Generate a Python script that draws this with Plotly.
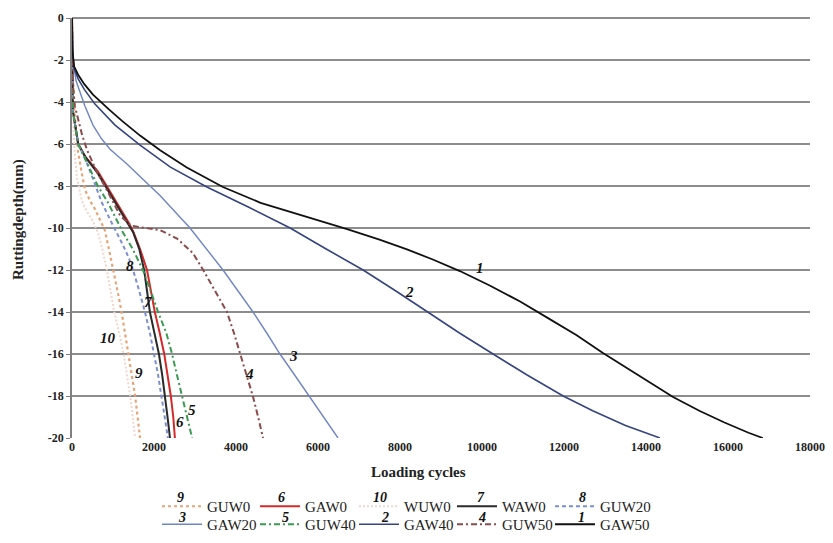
import plotly.graph_objects as go

# Rutting depth (mm) versus loading cycles for each mixture
gaw50_x = [0, 10, 50, 150, 300, 512, 900, 1220, 1660, 2150, 2800, 3680, 4600, 5730, 6710,
           7500, 8170, 8800, 9460, 10200, 10930, 11600, 12300, 12950, 13800, 14660, 15300, 15900, 16500, 16850]
gaw50_y = [0, -1.5, -2.3, -2.7, -3.15, -3.65, -4.35, -4.9, -5.6, -6.3, -7.12, -8.05, -8.8, -9.45, -10.05,
           -10.55, -11.02, -11.5, -12.05, -12.75, -13.5, -14.28, -15.1, -15.95, -17.0, -18.05, -18.7, -19.25, -19.75, -20.0]

gaw40_x = [0, 10, 50, 150, 300, 560, 1050, 1660, 2400, 3290, 4300, 5320, 6200, 7100, 7900,
           8660, 9450, 10270, 11100, 11980, 12700, 13500, 14340]
gaw40_y = [0, -1.5, -2.4, -2.9, -3.4, -4.1, -5.1, -6.05, -7.1, -8.05, -9.0, -10.0, -11.0, -12.0, -13.0,
           -14.0, -15.0, -16.0, -17.0, -18.0, -18.7, -19.4, -20.0]

gaw20_x = [0, 24, 100, 317, 512, 720, 927, 1341, 1659, 2146, 2878, 3683, 4050, 4415, 4750,
           5073, 5430, 5780, 6130, 6488]
gaw20_y = [0, -2.0, -3.0, -4.2, -5.1, -5.75, -6.25, -6.95, -7.55, -8.45, -10.0, -12.0, -13.0, -14.0, -15.0,
           -16.0, -17.0, -18.0, -19.0, -20.0]

guw50_x = [0, 15, 70, 250, 370, 600, 880, 1170, 1450, 1800, 2150, 2560, 2950, 3200, 3500,
           3780, 3950, 4100, 4260, 4410, 4540, 4660]
guw50_y = [0, -3.0, -4.2, -5.6, -6.3, -7.3, -8.3, -9.4, -9.9, -10.0, -10.1, -10.5, -11.2, -12.0, -13.0,
           -14.0, -15.0, -16.0, -17.0, -18.0, -19.0, -20.0]

guw40_x = [0, 10, 20, 150, 300, 490, 630, 880, 1050, 1240, 1480, 1730, 1920, 2100, 2300,
           2440, 2560, 2680, 2800, 2930]
guw40_y = [0, -2.5, -4.4, -6.0, -6.6, -7.4, -8.0, -8.8, -9.5, -10.2, -11.0, -12.0, -13.0, -14.0, -15.0,
           -16.0, -17.0, -18.0, -19.0, -20.0]

gaw0_x = [0, 10, 20, 150, 320, 630, 880, 1120, 1370, 1500, 1660, 1830, 1930, 2020, 2140,
          2250, 2330, 2410, 2470, 2510]
gaw0_y = [0, -2.5, -4.4, -6.0, -6.6, -7.3, -8.1, -8.9, -9.7, -10.2, -11.0, -12.0, -13.0, -14.0, -15.0,
          -16.0, -17.0, -18.0, -19.0, -20.0]

waw0_x = [0, 10, 20, 150, 320, 630, 880, 1120, 1370, 1490, 1640, 1760, 1830, 1900, 2010,
          2120, 2200, 2270, 2330, 2390]
waw0_y = [0, -2.5, -4.4, -6.0, -6.6, -7.4, -8.2, -9.0, -9.8, -10.2, -11.0, -12.0, -13.0, -14.0, -15.0,
          -16.0, -17.0, -18.0, -19.0, -20.0]

guw20_x = [0, 10, 20, 150, 300, 500, 730, 980, 1120, 1240, 1380, 1490, 1640, 1780, 1900,
           2000, 2100, 2180, 2260, 2340]
guw20_y = [0, -2.5, -4.4, -6.0, -6.6, -7.6, -8.8, -9.8, -10.3, -10.8, -11.4, -12.0, -13.0, -14.0, -15.0,
           -16.0, -17.0, -18.0, -19.0, -20.0]

guw0_x = [0, 10, 60, 150, 240, 320, 440, 560, 680, 800, 900, 1010, 1110, 1210, 1290,
          1370, 1460, 1540, 1600, 1660]
guw0_y = [0, -2.0, -4.5, -6.4, -7.4, -8.2, -8.7, -9.1, -9.6, -10.1, -11.0, -12.0, -13.0, -14.0, -15.0,
          -16.0, -17.0, -18.0, -19.0, -20.0]

wuw0_x = [0, 10, 50, 120, 240, 360, 490, 630, 740, 850, 940, 1030, 1150, 1260, 1340,
          1420, 1480, 1540]
wuw0_y = [0, -3.0, -6.0, -7.6, -8.7, -9.2, -9.6, -10.2, -11.0, -12.0, -13.0, -14.0, -15.0, -16.0, -17.0,
          -18.0, -19.0, -20.0]

# Series in legend order: (name, curve number, x, y, colour, width, dash)
series = [
    ("GUW0", "9", guw0_x, guw0_y, "#e6a477", 2.2, "3px,3px"),
    ("GAW0", "6", gaw0_x, gaw0_y, "#d42a2a", 2.0, "solid"),
    ("WUW0", "10", wuw0_x, wuw0_y, "#f1d6cc", 2.0, "2px,2px"),
    ("WAW0", "7", waw0_x, waw0_y, "#2a2a2a", 2.0, "solid"),
    ("GUW20", "8", guw20_x, guw20_y, "#7b90cc", 2.0, "4px,3px"),
    ("GAW20", "3", gaw20_x, gaw20_y, "#6f86c4", 1.4, "solid"),
    ("GUW40", "5", guw40_x, guw40_y, "#3b9a52", 2.0, "6px,3px,2px,3px"),
    ("GAW40", "2", gaw40_x, gaw40_y, "#34457f", 1.6, "solid"),
    ("GUW50", "4", guw50_x, guw50_y, "#8c4b4b", 2.0, "6px,3px,2px,3px"),
    ("GAW50", "1", gaw50_x, gaw50_y, "#111111", 1.8, "solid"),
]

# Curve number labels placed beside the curves (x, y)
curve_labels = {
    "1": (9950, -11.9), "2": (8240, -13.05), "3": (5410, -16.1), "4": (4340, -16.95),
    "5": (2930, -18.67), "6": (2630, -19.24), "7": (1850, -13.52), "8": (1415, -11.81),
    "9": (1630, -16.9), "10": (880, -15.24),
}

x_ticks = [0, 2000, 4000, 6000, 8000, 10000, 12000, 14000, 16000, 18000]
y_ticks = [0, -2, -4, -6, -8, -10, -12, -14, -16, -18, -20]

SERIF = "Liberation Serif"
W, H = 833, 543
L, R, T, B = 72, 23, 18, 105

# Legend grid: five columns, two rows (pixel positions of each entry box)
legend_col_px = [157, 255, 354, 452, 550]
legend_row_px = [490, 508]

fig = go.Figure()
legend_layouts = {}
for i, (name, num, xs, ys, color, width, dash) in enumerate(series):
    lg = "legend" if i == 0 else f"legend{i + 1}"
    row, col = divmod(i, 5)
    fig.add_trace(go.Scatter(
        x=xs, y=ys, mode="lines", name=name, legend=lg,
        line=dict(color=color, width=width, dash=dash),
    ))
    legend_layouts[lg] = dict(
        xref="container", yref="container",
        x=legend_col_px[col] / W, y=1 - legend_row_px[row] / H,
        xanchor="left", yanchor="top",
        font=dict(family=SERIF, size=15, color="#222"),
        itemwidth=40, bgcolor="rgba(0,0,0,0)",
    )

for num, (lx, ly) in curve_labels.items():
    fig.add_annotation(x=lx, y=ly, xref="x", yref="y", text=f"<b><i>{num}</i></b>",
                       showarrow=False, font=dict(family=SERIF, size=15, color="#111"))


def paper_x(px):
    return (px - L) / (W - L - R)


def paper_y(py):
    return (H - B - py) / (H - T - B)


# Numbers above the legend line samples (two rows of five)
legend_num_px = [[180, 281, 380, 481, 582], [182, 285, 385, 482, 581]]
legend_num_py = [497, 517]
for i, (name, num, *_rest) in enumerate(series):
    row, col = divmod(i, 5)
    fig.add_annotation(x=paper_x(legend_num_px[row][col]), y=paper_y(legend_num_py[row]),
                       xref="paper", yref="paper", xanchor="center", yanchor="middle",
                       text=f"<b><i>{num}</i></b>", showarrow=False,
                       font=dict(family=SERIF, size=14, color="#111"))

# Axis titles
fig.add_annotation(x=paper_x(418), y=paper_y(472), xref="paper", yref="paper",
                   xanchor="center", yanchor="middle",
                   text="<b>Loading cycles</b>", showarrow=False,
                   font=dict(family=SERIF, size=15, color="#222"))
fig.add_annotation(x=paper_x(19), y=paper_y(220), xref="paper", yref="paper",
                   xanchor="center", yanchor="middle", textangle=-90,
                   text="<b>Ruttingdepth(mm)</b>", showarrow=False,
                   font=dict(family=SERIF, size=15, color="#222"))

fig.update_layout(
    width=W, height=H,
    margin=dict(l=L, r=R, t=T, b=B, autoexpand=False),
    paper_bgcolor="white", plot_bgcolor="white",
    font=dict(family=SERIF, size=12, color="#222"),
    showlegend=True,
    **legend_layouts,
    xaxis=dict(
        range=[0, 18000], tickvals=x_ticks, ticktext=[f"<b>{v}</b>" for v in x_ticks],
        showgrid=False, zeroline=False, showline=False, ticks="",
        tickfont=dict(family=SERIF, size=12, color="#222"),
    ),
    xaxis2=dict(
        range=[0, 18000], tickvals=x_ticks, overlaying="x", side="top", anchor="y",
        showticklabels=False, ticks="inside", ticklen=4, tickcolor="#888", tickwidth=1,
        showgrid=False, zeroline=False, showline=False,
    ),
    yaxis=dict(
        range=[-20, 0], tickvals=y_ticks, ticktext=[f"<b>{v}</b>" for v in y_ticks],
        showgrid=True, gridcolor="#8c8c8c", gridwidth=1.5,
        zeroline=True, zerolinecolor="#8c8c8c", zerolinewidth=1.5,
        showline=True, linecolor="#808080", linewidth=1.5,
        ticks="outside", ticklen=4, tickcolor="#808080",
        tickfont=dict(family=SERIF, size=12, color="#222"),
    ),
)

fig.write_html("out.html")
